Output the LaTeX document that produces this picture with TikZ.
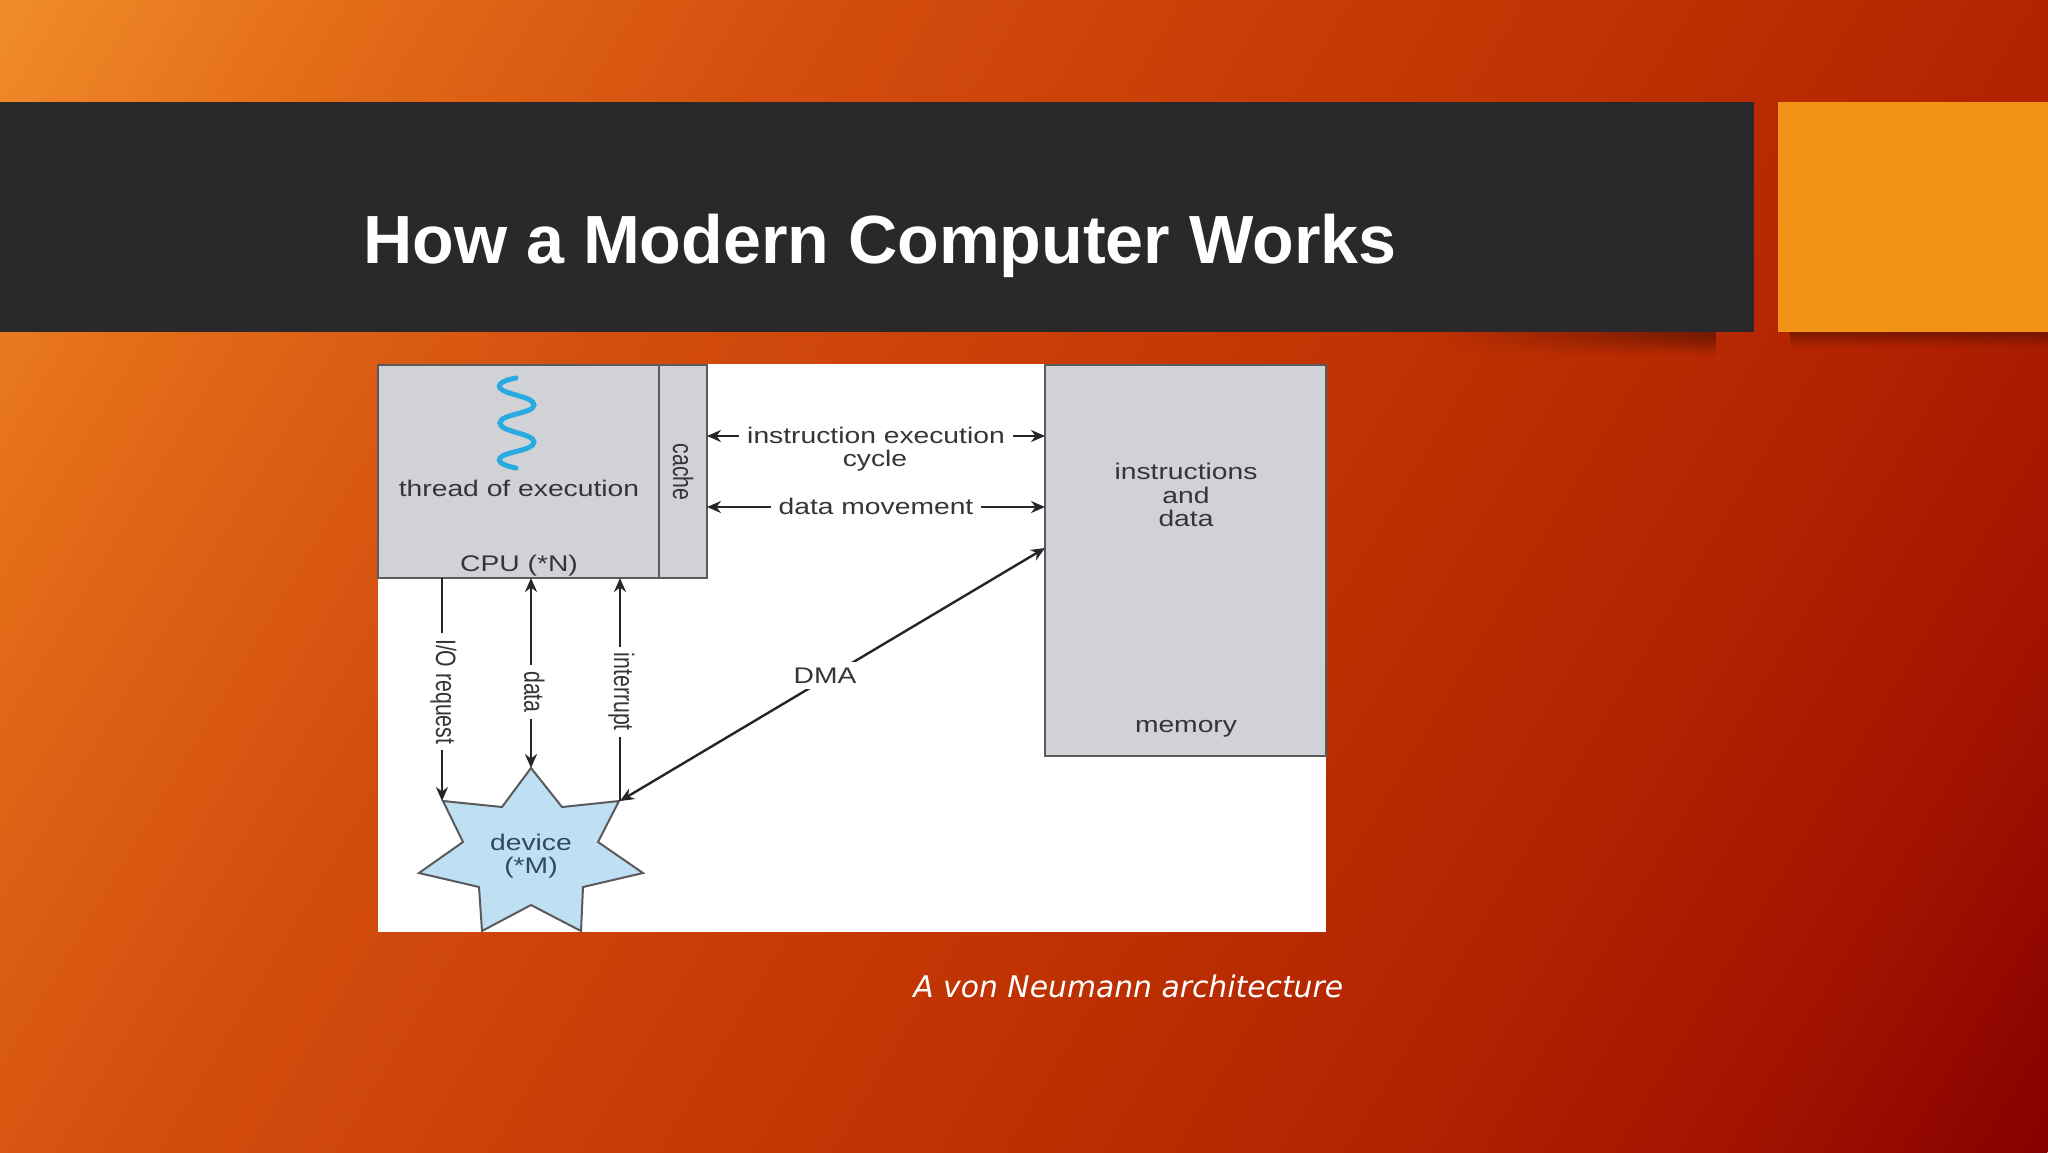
\documentclass[tikz,border=0pt]{standalone}
\usepackage{fontspec}
\setmainfont{Liberation Sans}
\newfontfamily\figh[FakeStretch=1.25]{Liberation Sans}
\newfontfamily\figv[FakeStretch=0.76]{Liberation Sans}
\newfontfamily\capfont{DejaVu Sans}
\usetikzlibrary{arrows.meta,fadings}
\definecolor{barc}{HTML}{2A282B}
\definecolor{accent}{HTML}{F19317}
\definecolor{boxc}{HTML}{D0D2D5}
\definecolor{edgec}{HTML}{5A5A5C}
\definecolor{inkc}{HTML}{353537}
\definecolor{arrowc}{HTML}{262626}
\definecolor{starc}{HTML}{BFE0F3}
\definecolor{devc}{HTML}{2F4A5C}
\definecolor{threadc}{HTML}{29ABE2}
\definecolor{shadowc}{HTML}{4A1000}
\definecolor{bga}{HTML}{F18C2A}
\definecolor{bgb}{HTML}{E36C18}
\definecolor{bgc}{HTML}{D34E0E}
\definecolor{bgd}{HTML}{C63A05}
\definecolor{bge}{HTML}{B22400}
\definecolor{bgf}{HTML}{A01200}
\definecolor{bgg}{HTML}{860000}
\pgfdeclarehorizontalshading{slidebg}{100bp}{
 color(0bp)=(bga);
 color(25bp)=(bga);
 color(31.4bp)=(bgb);
 color(39.9bp)=(bgc);
 color(50bp)=(bgd);
 color(62.4bp)=(bge);
 color(69.7bp)=(bgf);
 color(75bp)=(bgg);
 color(100bp)=(bgg)}
\tikzfading[name=shfade,left color=transparent!100,middle color=transparent!55,right color=transparent!0]
\tikzset{
 boxnode/.style={draw=edgec,fill=boxc,line width=1pt,anchor=north west,inner sep=0pt,outer sep=0pt},
 txt/.style={text=inkc,font=\figh\fontsize{11.3}{11.8}\selectfont,align=center,inner sep=0pt},
 vlab/.style={text=inkc,font=\figv\fontsize{14}{16}\selectfont,rotate=-90,fill=white,inner xsep=3pt,inner ysep=1pt,yshift=.7pt},
 hlab/.style={text=inkc,font=\figh\fontsize{11.3}{11.8}\selectfont,fill=white,inner xsep=4pt,inner ysep=1pt},
 conn/.style={draw=arrowc,line width=1.2pt},
 tipb/.style={conn,{Stealth[length=7pt,width=6pt]}-{Stealth[length=7pt,width=6pt]}},
 tipe/.style={conn,-{Stealth[length=7pt,width=6pt]}},
}
\begin{document}
\begin{tikzpicture}[x=0.5pt,y=-0.5pt]
\useasboundingbox (0,0) rectangle (2048,1152);
% slide background
\begin{scope}
\clip (0,0) rectangle (2048,1152);
\shade[shading=slidebg,transform canvas={rotate around={-31:(1024,576)}}] (-150,-1424) rectangle (2198,2576);
\end{scope}
% shadows below the bar and the accent box
\foreach \yy/\op in {332/.62,335/.58,338/.52,341/.44,344/.34,347/.24,350/.14,353/.06}
  \fill[shadowc,path fading=shfade,opacity=\op] (1440,\yy) rectangle (1716,\yy+3);
\foreach \yy/\op in {332/.50,335/.40,338/.28,341/.17,344/.08}
  \fill[shadowc,opacity=\op] (1790,\yy) rectangle (2048,\yy+3);
\fill[barc] (0,102) rectangle (1754,332);
\fill[accent] (1778,102) rectangle (2048,332);
\node[anchor=base west,inner sep=0pt,text=white,font=\bfseries\fontsize{34.1}{40}\selectfont] (title) at (363,263) {How a Modern Computer Works};
% figure
\fill[white] (378,364) rectangle (1326,932);
\node[boxnode,minimum width=140.5pt,minimum height=106.5pt] (cpu) at (378,365) {};
\node[boxnode,minimum width=24pt,minimum height=106.5pt] (cachebox) at (659,365) {};
\node[boxnode,minimum width=140.5pt,minimum height=195.5pt] (mem) at (1045,365) {};
\draw[threadc,line width=2.5pt,line cap=round] plot[smooth,tension=.9] coordinates {(516,378) (500,388) (534,405) (500,423) (534,442) (500,458) (516,468)};
\node[txt] (thread) at (519,488) {thread of execution};
\node[txt] (cpulabel) at (519,566) {CPU (*N)};
\node[text=inkc,font=\figv\fontsize{14}{16}\selectfont,rotate=-90,inner sep=0pt] (cachelabel) at (683,472) {cache};
\node[txt] (memtext) at (1186,495) {instructions\\and\\data};
\node[txt] (memlabel) at (1186,729) {memory};
% device
\draw[draw=edgec,fill=starc,line width=1pt,line join=miter] (531,768) -- (562,807) -- (619,801) -- (598,842) -- (643,873) -- (583,887) -- (581,931) -- (531,905) -- (482,931) -- (479,887) -- (419,873) -- (463,842) -- (443,801) -- (502,807) -- cycle;
\node[txt,text=devc] (device) at (531,856) {device\\(*M)};
% connector ends
\coordinate (ioA) at (442,578);
\coordinate (ioB) at (442,801);
\coordinate (daA) at (531,578);
\coordinate (daB) at (531,768);
\coordinate (inA) at (620,578);
\coordinate (inB) at (620,801);
\coordinate (dmaA) at (620,801);
\coordinate (dmaB) at (1045,548);
\coordinate (ieA) at (707,436);
\coordinate (ieB) at (1045,436);
\coordinate (dmA) at (707,507);
\coordinate (dmB) at (1045,507);
\draw[tipe] (ioA) -- node[vlab,pos=.51] (iolab) {I/O request} (ioB);
\draw[tipb] (daA) -- node[vlab,pos=.6,yshift=1pt] (dalab) {data} (daB);
\draw[tipe] (inB) -- node[vlab,pos=.49] (inlab) {interrupt} (inA);
\draw[tipb] (dmaA) -- node[hlab,pos=.48,inner xsep=1pt,inner ysep=3pt,yshift=2pt,xshift=.5pt] (dmalab) {DMA} (dmaB);
\draw[tipb] (ieA) -- node[hlab,pos=.5,yshift=.5pt] (ielab) {instruction execution} (ieB);
\node[txt] (cycle) at (875,461) {cycle};
\draw[tipb] (dmA) -- node[hlab,pos=.5,yshift=.4pt] (dmlab) {data movement} (dmB);
% caption
\node[anchor=base west,inner sep=0pt,text=white,font=\capfont\itshape\fontsize{14.9}{18}\selectfont] (caption) at (913,997) {A von Neumann architecture};
\end{tikzpicture}
\end{document}
